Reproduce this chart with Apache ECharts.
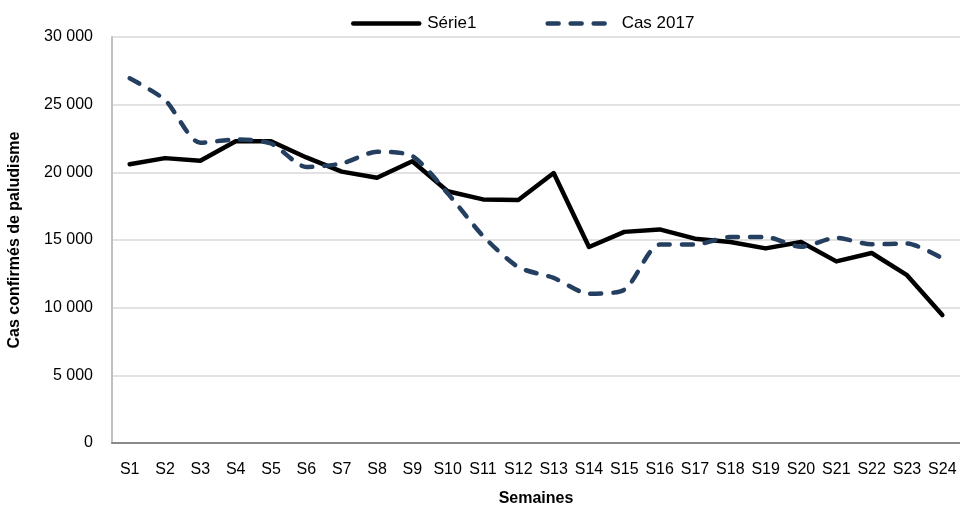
<!DOCTYPE html>
<html>
<head>
<meta charset="utf-8">
<script src="https://cdn.jsdelivr.net/npm/echarts@6/dist/echarts.min.js"></script>
<style>
  html, body { margin: 0; padding: 0; background: #fff; }
  #chart { width: 960px; height: 509px; }
</style>
</head>
<body>
<div id="chart"></div>
<script>
const weeks = ['S1','S2','S3','S4','S5','S6','S7','S8','S9','S10','S11','S12',
  'S13','S14','S15','S16','S17','S18','S19','S20','S21','S22','S23','S24'];
const serie1 = [20600, 21050, 20850, 22300, 22300, 21100, 20050, 19600, 20820, 18600, 18000, 17950,
  19950, 14480, 15600, 15780, 15100, 14850, 14380, 14850, 13420, 14040, 12400, 9450];
const cas2017 = [26950, 25350, 22180, 22430, 22130, 20400, 20650, 21520, 21200, 18450, 15300, 13000,
  12200, 11030, 11330, 14660, 14660, 15220, 15220, 14500, 15160, 14680, 14740, 13650];

const font = '"Liberation Sans Narrow", "Liberation Sans", Arial, sans-serif';
const chart = echarts.init(document.getElementById('chart'));

chart.setOption({
  animation: false,
  backgroundColor: '#fff',
  textStyle: { fontFamily: font },
  legend: {
    top: 10,
    left: 346,
    itemWidth: 66,
    itemHeight: 14,
    itemGap: 69,
    itemStyle: { color: 'transparent', borderWidth: 0, opacity: 0 },
    lineStyle: { width: 4.5, cap: 'round' },
    textStyle: { fontFamily: font, fontSize: 17, color: '#000', padding: [0, 0, 0, 3] },
    data: ['Série1', 'Cas 2017']
  },
  grid: { left: 112, right: 0, top: 37, bottom: 66, outerBoundsMode: 'none', containLabel: false },
  xAxis: {
    type: 'category',
    data: weeks,
    boundaryGap: true,
    name: 'Semaines',
    nameLocation: 'middle',
    nameGap: 48,
    nameTextStyle: { fontFamily: font, fontSize: 16, fontWeight: 'bold', color: '#000' },
    axisLine: { lineStyle: { color: '#898989', width: 2 } },
    axisTick: { inside: true, length: 5, lineStyle: { color: '#898989', width: 1.5 } },
    axisLabel: { fontFamily: font, fontSize: 16, color: '#000', margin: 19, interval: 0 }
  },
  yAxis: {
    type: 'value',
    min: 0,
    max: 30000,
    interval: 5000,
    name: 'Cas confirmés de paludisme',
    nameLocation: 'middle',
    nameGap: 89,
    nameTextStyle: { fontFamily: font, fontSize: 16, fontWeight: 'bold', color: '#000' },
    axisLine: { show: true, lineStyle: { color: '#c0c0c0', width: 2 } },
    axisTick: { show: false },
    axisLabel: {
      fontFamily: font, fontSize: 16, color: '#000', margin: 19,
      formatter: v => v === 0 ? '0' : String(v).replace(/\B(?=(\d{3})+(?!\d))/g, ' ')
    },
    splitLine: { lineStyle: { color: '#d9d9d9', width: 1.5 } }
  },
  series: [
    {
      name: 'Série1',
      type: 'line',
      data: serie1,
      symbol: 'none',
      itemStyle: { color: '#000' },
      lineStyle: { color: '#000', width: 4.5, cap: 'round', join: 'round' }
    },
    {
      name: 'Cas 2017',
      type: 'line',
      data: cas2017,
      symbol: 'none',
      smooth: 0.25,
      itemStyle: { color: '#243f60' },
      lineStyle: { color: '#243f60', width: 4.5, type: [11, 12], cap: 'round', join: 'round' }
    }
  ]
});
</script>
</body>
</html>
